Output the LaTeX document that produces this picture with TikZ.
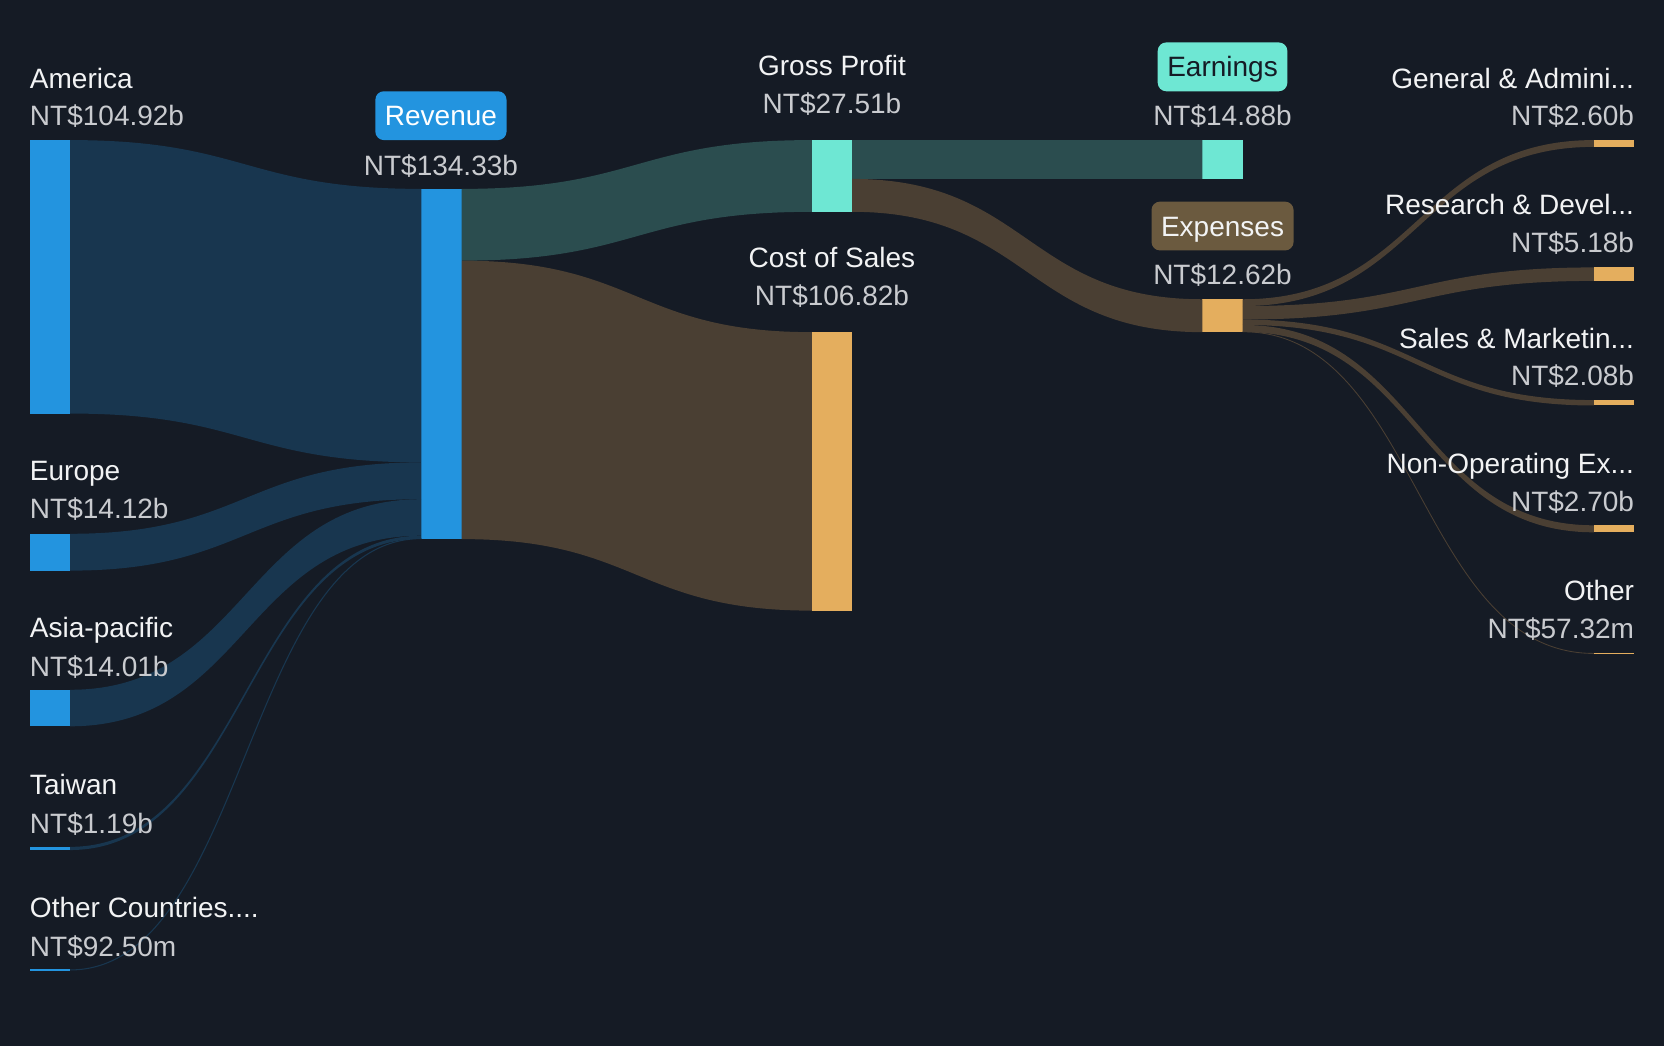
\documentclass[tikz,border=0pt]{standalone}
\usepackage{fontspec}
\setmainfont{Liberation Sans}
\usetikzlibrary{calc}
\definecolor{bgnavy}{HTML}{151B25}
\definecolor{revblue}{HTML}{2394DF}
\definecolor{blueflow}{HTML}{18364F}
\definecolor{profteal}{HTML}{6EE7D3}
\definecolor{tealflow}{HTML}{2B4D4F}
\definecolor{costgold}{HTML}{E4AE5E}
\definecolor{brownflow}{HTML}{4A3F33}
\definecolor{expbrown}{HTML}{6B5A3F}
\definecolor{labwhite}{HTML}{F2F3F4}
\definecolor{valgray}{HTML}{C9CBCF}
\newdimen\pxu \pxu=0.7959pt

\begin{document}
\begin{tikzpicture}[x=\pxu, y=-\pxu,
  bar/.style={rectangle, fill=#1, inner sep=0pt, outer sep=0pt, minimum width=38\pxu, anchor=north west},
  lab/.style={text=labwhite, inner sep=0pt, font=\fontsize{21}{25}\selectfont},
  val/.style={text=valgray, inner sep=0pt, font=\fontsize{21}{25}\selectfont},
  badge/.style={fill=#1, rounded corners=8\pxu, inner xsep=9\pxu, inner ysep=0pt, minimum height=46\pxu, text height=15pt, text depth=0pt, font=\fontsize{21}{25}\selectfont}]
\useasboundingbox (0,0) rectangle (1568,986);
\fill[bgnavy] (0,0) rectangle (1568,986);
% bars
\node[bar=revblue, minimum height=257.7\pxu] (am) at (28,132) {};
\node[bar=revblue, minimum height=34.7\pxu] (eu) at (28,503) {};
\node[bar=revblue, minimum height=34.4\pxu] (ap) at (28,650) {};
\node[bar=revblue, minimum height=3\pxu] (tw) at (28,798) {};
\node[bar=revblue, minimum height=2\pxu] (oc) at (28,913) {};
\node[bar=revblue, minimum height=330\pxu] (rev) at (397,178) {};
\node[bar=profteal, minimum height=67.6\pxu] (gp) at (765,132) {};
\node[bar=costgold, minimum height=262.4\pxu] (cos) at (765,313) {};
\node[bar=profteal, minimum height=36.6\pxu] (earn) at (1133,132) {};
\node[bar=costgold, minimum height=31\pxu] (exp) at (1133,282) {};
\node[bar=costgold, minimum height=6.4\pxu] (ga) at (1502,132) {};
\node[bar=costgold, minimum height=12.7\pxu] (rd) at (1502,252) {};
\node[bar=costgold, minimum height=5.1\pxu] (sm) at (1502,377) {};
\node[bar=costgold, minimum height=6.6\pxu] (no) at (1502,495) {};
\node[bar=costgold, minimum height=1.5\pxu] (ot) at (1502,615) {};
% flows into revenue
\fill[blueflow] (am.north east) .. controls +(165.5,0) and +(-165.5,0) .. (rev.north west) -- ($(rev.north west)+(0,257.7)$) .. controls +(-165.5,0) and +(165.5,0) .. (am.south east) -- cycle;
\fill[blueflow] (eu.north east) .. controls +(165.5,0) and +(-165.5,0) .. ($(rev.north west)+(0,257.7)$) -- ($(rev.north west)+(0,292.4)$) .. controls +(-165.5,0) and +(165.5,0) .. (eu.south east) -- cycle;
\fill[blueflow] (ap.north east) .. controls +(165.5,0) and +(-165.5,0) .. ($(rev.north west)+(0,292.4)$) -- ($(rev.north west)+(0,326.8)$) .. controls +(-165.5,0) and +(165.5,0) .. (ap.south east) -- cycle;
\fill[blueflow] (tw.north east) .. controls +(165.5,0) and +(-165.5,0) .. ($(rev.north west)+(0,326.8)$) -- ($(rev.north west)+(0,329.7)$) .. controls +(-165.5,0) and +(165.5,0) .. (tw.south east) -- cycle;
\draw[blueflow, line width=1\pxu] (oc.east) .. controls +(165.5,0) and +(-165.5,0) .. ($(rev.south west)+(0,-0.5)$);
% revenue split
\fill[tealflow] (rev.north east) .. controls +(165.5,0) and +(-165.5,0) .. (gp.north west) -- (gp.south west) .. controls +(-165.5,0) and +(165.5,0) .. ($(rev.north east)+(0,67.6)$) -- cycle;
\fill[brownflow] ($(rev.north east)+(0,67.6)$) .. controls +(165.5,0) and +(-165.5,0) .. (cos.north west) -- (cos.south west) .. controls +(-165.5,0) and +(165.5,0) .. (rev.south east) -- cycle;
% gross profit split
\fill[tealflow] (gp.north east) .. controls +(165.5,0) and +(-165.5,0) .. (earn.north west) -- (earn.south west) .. controls +(-165.5,0) and +(165.5,0) .. ($(gp.north east)+(0,36.6)$) -- cycle;
\fill[brownflow] ($(gp.north east)+(0,36.6)$) .. controls +(165.5,0) and +(-165.5,0) .. (exp.north west) -- (exp.south west) .. controls +(-165.5,0) and +(165.5,0) .. (gp.south east) -- cycle;
% expenses split
\fill[brownflow] (exp.north east) .. controls +(165.5,0) and +(-165.5,0) .. (ga.north west) -- (ga.south west) .. controls +(-165.5,0) and +(165.5,0) .. ($(exp.north east)+(0,6.4)$) -- cycle;
\fill[brownflow] ($(exp.north east)+(0,6.4)$) .. controls +(165.5,0) and +(-165.5,0) .. (rd.north west) -- (rd.south west) .. controls +(-165.5,0) and +(165.5,0) .. ($(exp.north east)+(0,19.1)$) -- cycle;
\fill[brownflow] ($(exp.north east)+(0,19.1)$) .. controls +(165.5,0) and +(-165.5,0) .. (sm.north west) -- (sm.south west) .. controls +(-165.5,0) and +(165.5,0) .. ($(exp.north east)+(0,24.2)$) -- cycle;
\fill[brownflow] ($(exp.north east)+(0,24.2)$) .. controls +(165.5,0) and +(-165.5,0) .. (no.north west) -- (no.south west) .. controls +(-165.5,0) and +(165.5,0) .. ($(exp.north east)+(0,30.8)$) -- cycle;
\draw[brownflow, line width=0.8\pxu] ($(exp.south east)+(0,-0.4)$) .. controls +(165.5,0) and +(-165.5,0) .. (ot.west);
% labels
\node[lab, anchor=base west] (am-l) at (28,83) {America};
\node[val, anchor=base west] (am-v) at (28,118) {NT\$104.92b};
\node[lab, anchor=base west] (eu-l) at (28,453) {Europe};
\node[val, anchor=base west] (eu-v) at (28,489) {NT\$14.12b};
\node[lab, anchor=base west] (ap-l) at (28,601) {Asia-pacific};
\node[val, anchor=base west] (ap-v) at (28,637) {NT\$14.01b};
\node[lab, anchor=base west] (tw-l) at (28,749) {Taiwan};
\node[val, anchor=base west] (tw-v) at (28,785) {NT\$1.19b};
\node[lab, anchor=base west] (oc-l) at (28,865) {Other Countries....};
\node[val, anchor=base west] (oc-v) at (28,901) {NT\$92.50m};
\node[badge=revblue, text=white] (rev-l) at (415.5,109) {Revenue};
\node[val, anchor=base] (rev-v) at (415.5,165) {NT\$134.33b};
\node[lab, anchor=base] (gp-l) at (784,71) {Gross Profit};
\node[val, anchor=base] (gp-v) at (784,107) {NT\$27.51b};
\node[lab, anchor=base] (cos-l) at (784,252) {Cost of Sales};
\node[val, anchor=base] (cos-v) at (784,288) {NT\$106.82b};
\node[badge=profteal, text=bgnavy] (earn-l) at (1152,63) {Earnings};
\node[val, anchor=base] (earn-v) at (1152,118) {NT\$14.88b};
\node[badge=expbrown, text=labwhite] (exp-l) at (1152,213) {Expenses};
\node[val, anchor=base] (exp-v) at (1152,268) {NT\$12.62b};
\node[lab, anchor=base east] (ga-l) at (1540,83) {General \& Admini...};
\node[val, anchor=base east] (ga-v) at (1540,118) {NT\$2.60b};
\node[lab, anchor=base east] (rd-l) at (1540,202) {Research \& Devel...};
\node[val, anchor=base east] (rd-v) at (1540,238) {NT\$5.18b};
\node[lab, anchor=base east] (sm-l) at (1540,328) {Sales \& Marketin...};
\node[val, anchor=base east] (sm-v) at (1540,363) {NT\$2.08b};
\node[lab, anchor=base east] (no-l) at (1540,446) {Non-Operating Ex...};
\node[val, anchor=base east] (no-v) at (1540,482) {NT\$2.70b};
\node[lab, anchor=base east] (ot-l) at (1540,566) {Other};
\node[val, anchor=base east] (ot-v) at (1540,602) {NT\$57.32m};
\end{tikzpicture}
\end{document}
